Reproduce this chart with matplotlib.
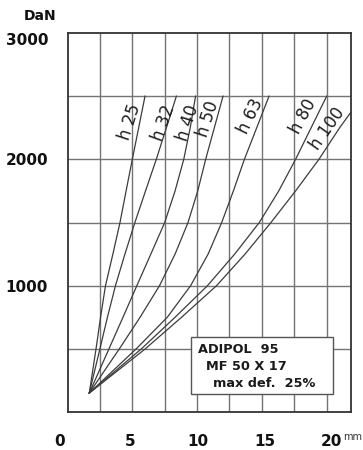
import numpy as np
import matplotlib
matplotlib.use("Agg")
import matplotlib.pyplot as plt
from matplotlib.patches import Rectangle
from matplotlib.transforms import ScaledTranslation

# deflection (mm) at each load level (DaN)
loads = [150, 500, 750, 1000, 1250, 1500, 1750, 2000, 2250, 2500]
loads_h100 = [150, 500, 750, 1000, 1250, 1500, 1750, 2000, 2250, 2370]

h25 = [1.68, 2.2, 2.55, 2.93, 3.5, 4.05, 4.52, 5.0, 5.49, 5.98]
h32 = [1.68, 2.5, 3.08, 3.7, 4.43, 5.2, 6.02, 6.85, 7.63, 8.4]
h40 = [1.68, 3.2, 4.28, 5.35, 6.43, 7.5, 8.3, 8.97, 9.47, 9.88]
h50 = [1.68, 4.0, 5.6, 7.1, 8.3, 9.3, 10.05, 10.66, 11.33, 12.0]
h63 = [1.68, 5.3, 7.7, 9.5, 10.85, 11.9, 12.8, 13.65, 14.6, 15.55]
h80 = [1.68, 5.7, 8.3, 10.8, 12.9, 14.8, 16.3, 17.6, 18.8, 20.0]
h100 = [1.68, 6.0, 8.8, 11.5, 13.7, 15.7, 17.6, 19.4, 21.0, 21.85]

curve_names = ["h 25", "h 32", "h 40", "h 50", "h 63", "h 80", "h 100"]
# label centre (mm, DaN) and rotation
label_pos = [(4.8, 2295), (7.45, 2285), (9.3, 2290), (10.8, 2320), (14.15, 2340), (18.2, 2340), (20.1, 2240)]
label_rot = [72, 70, 72, 72, 64, 62, 55]

x_ticks = [0, 5, 10, 15, 20]
x_label_shift_px = [-8, -2, 1, 3, 5]
y_ticks = [1000, 2000, 3000]
box_lines = ["ADIPOL  95", "MF 50 X 17", "max def.  25%"]
box_line_x = [10.04, 10.66, 11.24]
box_line_y = [496, 358, 222]

fig = plt.figure(figsize=(3.63, 4.5), dpi=100)
ax = fig.add_axes([0.186, 0.0844, 0.780, 0.8423])

ax.set_xlim(0, 21.85)
ax.set_ylim(0, 3000)

# grid every 2.5 mm / 500 DaN
for gx in np.arange(2.5, 21.85, 2.5):
    ax.axvline(gx, color="#747474", lw=1.0, zorder=1)
for gy in np.arange(500, 3000, 500):
    ax.axhline(gy, color="#747474", lw=1.0, zorder=1)

series = [h25, h32, h40, h50, h63, h80]
for xs in series:
    ax.plot(xs, loads, color="#3c3c3c", lw=0.9, zorder=2)
ax.plot(h100, loads_h100, color="#3c3c3c", lw=0.9, zorder=2)

for name, (lx, ly), rot in zip(curve_names, label_pos, label_rot):
    ax.text(lx, ly, name, rotation=rot, ha="center", va="center",
            fontsize=12, color="#1e1e1e", zorder=3)

# legend box (white, hides grid)
ax.add_patch(Rectangle((9.5, 140), 11.0, 456, fc="white", ec="#555555", lw=1.0, zorder=4))
for txt, tx, ty in zip(box_lines, box_line_x, box_line_y):
    ax.text(tx, ty, txt, fontsize=9.3, fontweight="bold", color="#1a1a1a",
            ha="left", va="center", zorder=5)

for s in ax.spines.values():
    s.set_color("#333333")
    s.set_linewidth(1.3)

ax.set_xticks(x_ticks)
ax.set_xticklabels([str(v) for v in x_ticks])
ax.set_yticks(y_ticks)
ax.set_yticklabels([str(v) for v in y_ticks])
ax.tick_params(length=0)
ax.tick_params(axis="x", pad=16)
ax.tick_params(axis="y", pad=14)
for lab in ax.get_xticklabels() + ax.get_yticklabels():
    lab.set_fontweight("bold")
    lab.set_fontsize(11)
    lab.set_color("#111111")
ax.get_yticklabels()[-1].set_va("top")
for lab, dx in zip(ax.get_xticklabels(), x_label_shift_px):
    lab.set_transform(lab.get_transform() + ScaledTranslation(dx / 100, 0, fig.dpi_scale_trans))

fig.text(0.11, 0.965, "DaN", fontsize=10, fontweight="bold", ha="center", va="center", color="#111111")
fig.text(0.997, 0.029, "mm", fontsize=7, ha="right", va="center", color="#333333")

fig.savefig("out.png", dpi=100)
